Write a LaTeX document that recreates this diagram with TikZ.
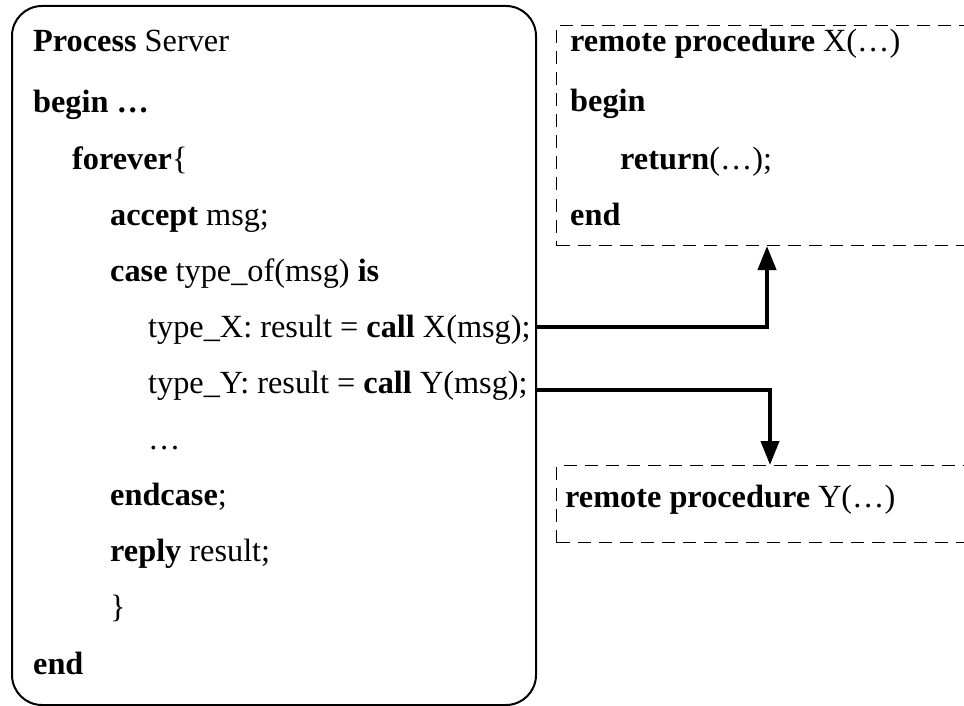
\documentclass[tikz,border=0pt]{standalone}
\usepackage{fontspec}
\setmainfont{Liberation Serif}
\usetikzlibrary{arrows.meta,positioning}

\begin{document}
\begin{tikzpicture}[
  x=1pt, y=-1pt,
  font=\fontsize{32.3}{38}\selectfont,
  srvbox/.style={rectangle, rounded corners=30pt, draw=black, line width=2pt,
    minimum width=524pt, minimum height=699pt, anchor=north west, inner sep=0pt},
  rpbox/.style={rectangle, draw=black, line width=1pt, dash pattern=on 13pt off 8pt,
    minimum width=444pt, anchor=north west, inner sep=0pt},
  ln/.style={anchor=base west, inner sep=0pt},
  ar/.style={-{Triangle[length=24pt, width=18pt]}, line width=4pt, draw=black}]
\clip (0,0) rectangle (964,706);
% server process
\node[srvbox] (srv) at (11,5) {};
\node[ln] (l0) at (33,52) {\textbf{Process} Server};
\node[ln] (l1) at (33,113) {\textbf{begin …}};
\node[ln] (l2) at (72,169) {\textbf{forever}\{};
\node[ln] (l3) at (110,225) {\textbf{accept} msg;};
\node[ln] (l4) at (110,281) {\textbf{case} type\_of(msg) \textbf{is}};
\node[ln] (lx) at (148,337) {type\_X: result = \textbf{call} X(msg);};
\node[ln] (ly) at (148,393) {type\_Y: result = \textbf{call} Y(msg);};
\node[ln] (l7) at (148,449) {…};
\node[ln] (l8) at (110,505) {\textbf{endcase};};
\node[ln] (l9) at (110,561) {\textbf{reply} result;};
\node[ln] (l10) at (110,617) {\}};
\node[ln] (l11) at (33,674) {\textbf{end}};
% remote procedures
\node[rpbox, minimum height=220pt] (px) at (556,25) {};
\node[ln] (x0) at (570,52) {\textbf{remote procedure} X(…)};
\node[ln] (x1) at (570,112) {\textbf{begin}};
\node[ln] (x2) at (620,169) {\textbf{return}(…);};
\node[ln] (x3) at (570,225) {\textbf{end}};
\node[rpbox, minimum height=77pt] (py) at (556,465) {};
\node[ln] (y0) at (565,507) {\textbf{remote procedure} Y(…)};
% calls
\draw[ar] ([yshift=10pt]lx.base east -| srv.east) -| ([xshift=211pt]px.south west);
\draw[ar] ([yshift=3pt]ly.base east -| srv.east) -| ([xshift=214pt]py.north west);
\end{tikzpicture}
\end{document}
